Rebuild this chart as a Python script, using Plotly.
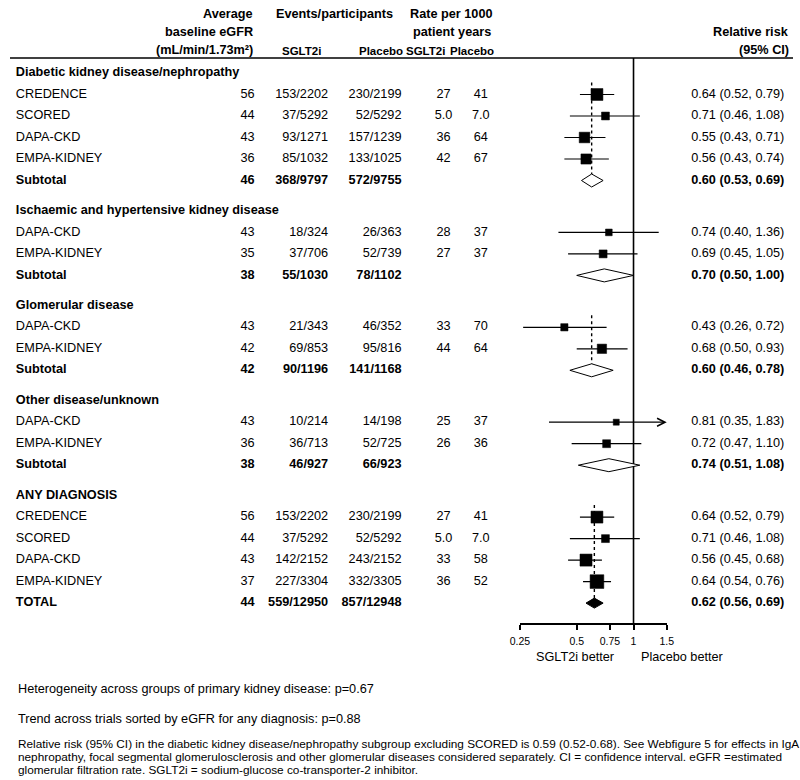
import math
import plotly.graph_objects as go

# ---------------- data ----------------
labels = ["Diabetic kidney disease/nephropathy", "CREDENCE", "SCORED", "DAPA-CKD", "EMPA-KIDNEY", "Subtotal",
          "Ischaemic and hypertensive kidney disease", "DAPA-CKD", "EMPA-KIDNEY", "Subtotal",
          "Glomerular disease", "DAPA-CKD", "EMPA-KIDNEY", "Subtotal",
          "Other disease/unknown", "DAPA-CKD", "EMPA-KIDNEY", "Subtotal",
          "ANY DIAGNOSIS", "CREDENCE", "SCORED", "DAPA-CKD", "EMPA-KIDNEY", "TOTAL"]
kinds = ["group", "study", "study", "study", "study", "subtotal",
         "group", "study", "study", "subtotal",
         "group", "study", "study", "subtotal",
         "group", "study", "study", "subtotal",
         "group", "study", "study", "study", "study", "total"]
egfr = [None, 56, 44, 43, 36, 46,
        None, 43, 35, 38,
        None, 43, 42, 42,
        None, 43, 36, 38,
        None, 56, 44, 43, 37, 44]
events_sglt2i = [None, "153/2202", "37/5292", "93/1271", "85/1032", "368/9797",
                 None, "18/324", "37/706", "55/1030",
                 None, "21/343", "69/853", "90/1196",
                 None, "10/214", "36/713", "46/927",
                 None, "153/2202", "37/5292", "142/2152", "227/3304", "559/12950"]
events_placebo = [None, "230/2199", "52/5292", "157/1239", "133/1025", "572/9755",
                  None, "26/363", "52/739", "78/1102",
                  None, "46/352", "95/816", "141/1168",
                  None, "14/198", "52/725", "66/923",
                  None, "230/2199", "52/5292", "243/2152", "332/3305", "857/12948"]
rate_sglt2i = [None, "27", "5.0", "36", "42", None,
               None, "28", "27", None,
               None, "33", "44", None,
               None, "25", "26", None,
               None, "27", "5.0", "33", "36", None]
rate_placebo = [None, "41", "7.0", "64", "67", None,
                None, "37", "37", None,
                None, "70", "64", None,
                None, "37", "36", None,
                None, "41", "7.0", "58", "52", None]
rr = [None, 0.64, 0.71, 0.55, 0.56, 0.60,
      None, 0.74, 0.69, 0.70,
      None, 0.43, 0.68, 0.60,
      None, 0.81, 0.72, 0.74,
      None, 0.64, 0.71, 0.56, 0.64, 0.62]
rr_lo = [None, 0.52, 0.46, 0.43, 0.43, 0.53,
         None, 0.40, 0.45, 0.50,
         None, 0.26, 0.50, 0.46,
         None, 0.35, 0.47, 0.51,
         None, 0.52, 0.46, 0.45, 0.54, 0.56]
rr_hi = [None, 0.79, 1.08, 0.71, 0.74, 0.69,
         None, 1.36, 1.05, 1.00,
         None, 0.72, 0.93, 0.78,
         None, 1.83, 1.10, 1.08,
         None, 0.79, 1.08, 0.68, 0.76, 0.69]
dotted_groups = ["Diabetic kidney disease/nephropathy", "Glomerular disease", "ANY DIAGNOSIS"]
axis_ticks = [0.25, 0.5, 0.75, 1, 1.5]
axis_ticktext = ["0.25", "0.5", "0.75", "1", "1.5"]
footnotes = ["Heterogeneity across groups of primary kidney disease: p=0.67",
             "Trend across trials sorted by eGFR for any diagnosis: p=0.88"]
note_lines = ["Relative risk (95% CI) in the diabetic kidney disease/nephropathy subgroup excluding SCORED is 0.59 (0.52-0.68). "
              "See Webfigure 5 for effects in IgA",
              "nephropathy, focal segmental glomerulosclerosis and other glomerular "
              "diseases considered separately. CI = confidence interval. eGFR =estimated",
              "glomerular filtration rate. SGLT2i = sodium-glucose co-transporter-2 inhibitor."]

# ---------------- layout helpers ----------------
FONT = "Liberation Sans, Arial, sans-serif"
FS = 12.7
W, H = 800, 780
TOP, BOTTOM = 58, 623          # rule line and forest axis (pixel rows)
ROW_H, GAP = 21.5, 8.9
ys = []
y = 73
for i, k in enumerate(kinds):
    if i > 0:
        y += ROW_H + (GAP if k == "group" else 0)
    ys.append(y)

def py2paper(py):
    return (BOTTOM - py) / (BOTTOM - TOP)

def fmt(v, k):
    if v is None:
        return ""
    s = str(v)
    return f"<b>{s}</b>" if k in ("group", "subtotal", "total") else s

fig = go.Figure()

def text_col(x, values, pos, size=FS):
    fig.add_trace(go.Scatter(
        x=[x] * len(values), y=ys, mode="text",
        text=[fmt(v, k) for v, k in zip(values, kinds)],
        textposition=pos, textfont=dict(family=FONT, size=size, color="black"),
        xaxis="x", yaxis="y", cliponaxis=False, hoverinfo="skip"))

text_col(6, labels, "middle right")
text_col(250, egfr, "middle left")
text_col(325, events_sglt2i, "middle left")
text_col(400, events_placebo, "middle left")
text_col(443, rate_sglt2i, "middle center")
text_col(481, rate_placebo, "middle center")
rr_txt = [None if r is None else f"{r:.2f} ({l:.2f}, {h:.2f})" for r, l, h in zip(rr, rr_lo, rr_hi)]
text_col(696, rr_txt, "middle right")

# ---------------- forest ----------------
xmax = axis_ticks[-1]
ci_x, ci_y = [], []
sq_x, sq_y, sq_s = [], [], []
for i, k in enumerate(kinds):
    if k != "study":
        continue
    se = (math.log(rr_hi[i]) - math.log(rr_lo[i])) / 3.92
    sq_x.append(rr[i]); sq_y.append(ys[i]); sq_s.append(4 + 0.85 / se)
    if rr_hi[i] <= xmax:
        ci_x += [rr_lo[i], rr_hi[i], None]; ci_y += [ys[i], ys[i], None]
    else:
        fig.add_annotation(x=math.log10(xmax), y=ys[i], ax=math.log10(rr_lo[i]), ay=ys[i],
                           xref="x2", yref="y", axref="x2", ayref="y", text="", showarrow=True,
                           arrowhead=5, arrowsize=1.3, arrowwidth=1.2, arrowcolor="black", standoff=0)

# vertical line at 1
fig.add_trace(go.Scatter(x=[1, 1], y=[TOP, BOTTOM], mode="lines", line=dict(color="black", width=1.6),
                         xaxis="x2", yaxis="y", cliponaxis=False, hoverinfo="skip"))

# dotted lines for pooled estimates
group_start = None
cur_group = None
for i, k in enumerate(kinds):
    if k == "group":
        cur_group = labels[i]; group_start = ys[i + 1]
    if k in ("subtotal", "total") and cur_group in dotted_groups:
        h = 6.5 if k == "subtotal" else 5
        fig.add_trace(go.Scatter(x=[rr[i], rr[i]], y=[group_start - 12, ys[i] - h], mode="lines",
                                 line=dict(color="black", width=1.4, dash="dot"),
                                 xaxis="x2", yaxis="y", cliponaxis=False, hoverinfo="skip"))

fig.add_trace(go.Scatter(x=ci_x, y=ci_y, mode="lines", line=dict(color="black", width=1.2),
                         xaxis="x2", yaxis="y", cliponaxis=False, hoverinfo="skip"))
fig.add_trace(go.Scatter(x=sq_x, y=sq_y, mode="markers", opacity=1,
                         marker=dict(symbol="square", size=sq_s, color="#000000", opacity=1,
                                     line=dict(width=0.5, color="#000000")),
                         xaxis="x2", yaxis="y", cliponaxis=False, hoverinfo="skip"))

for i, k in enumerate(kinds):
    if k in ("subtotal", "total"):
        h = 6.5 if k == "subtotal" else 5
        fig.add_trace(go.Scatter(
            x=[rr_lo[i], rr[i], rr_hi[i], rr[i], rr_lo[i]],
            y=[ys[i], ys[i] - h, ys[i], ys[i] + h, ys[i]],
            mode="lines", fill="toself", fillcolor="white" if k == "subtotal" else "black",
            line=dict(color="black", width=1), xaxis="x2", yaxis="y", cliponaxis=False, hoverinfo="skip"))

# ---------------- headers ----------------
def ann(x, y, text, anchor, size=FS, bold=True, align="left"):
    fig.add_annotation(x=x / W, y=py2paper(y), xref="paper", yref="paper",
                       text=f"<b>{text}</b>" if bold else text, align=align,
                       showarrow=False, xanchor=anchor, yanchor="middle",
                       font=dict(family=FONT, size=size, color="black"))

ann(250, 14, "Average", "right")
ann(250, 32, "baseline eGFR", "right")
ann(250, 50, "(mL/min/1.73m²)", "right")
ann(332, 14, "Events/participants", "center")
ann(298, 51, "SGLT2i", "center", 11.5)
ann(379, 51, "Placebo", "center", 11.5)
ann(451, 14, "Rate per 1000", "center")
ann(452, 32, "patient years", "center")
ann(446, 51, "SGLT2i", "right", 11.5)
ann(448, 51, "Placebo", "left", 11.5)
ann(798, 32, "Relative risk", "right")
ann(798, 50, "(95% CI)", "right")

ann(578, 657, "SGLT2i better", "center", bold=False)
ann(687, 657, "Placebo better", "center", bold=False)
ann(6, 689, footnotes[0], "left", bold=False)
ann(6, 719, footnotes[1], "left", bold=False)
for j, line in enumerate(note_lines):
    ann(6, 744 + 13 * j, line, "left", size=11.8, bold=False)

fig.add_shape(type="line", xref="paper", yref="paper", x0=0, x1=1, y0=1, y1=1,
              line=dict(color="black", width=1.6))

fig.update_layout(
    width=W, height=H, autosize=False, margin=dict(l=0, r=0, t=TOP, b=H - BOTTOM, pad=0),
    paper_bgcolor="white", plot_bgcolor="white", showlegend=False, hovermode=False,
    xaxis=dict(range=[0, W], visible=False, domain=[0, 1], fixedrange=True),
    xaxis2=dict(type="log", range=[math.log10(axis_ticks[0]), math.log10(axis_ticks[-1])],
                domain=[521 / W, 671 / W], anchor="y",
                tickvals=axis_ticks, ticktext=axis_ticktext, ticks="outside", ticklen=5,
                tickwidth=1.5, tickcolor="black", showline=True, linewidth=1.6, linecolor="black",
                showgrid=False, zeroline=False, ticklabelstandoff=3,
                tickfont=dict(family=FONT, size=10.5, color="black"), fixedrange=True),
    yaxis=dict(range=[BOTTOM, TOP], visible=False, fixedrange=True),
)

fig.write_html("out.html", config={"displayModeBar": False, "responsive": False},
               post_script="document.body.style.margin='0';document.body.style.overflow='hidden';")
